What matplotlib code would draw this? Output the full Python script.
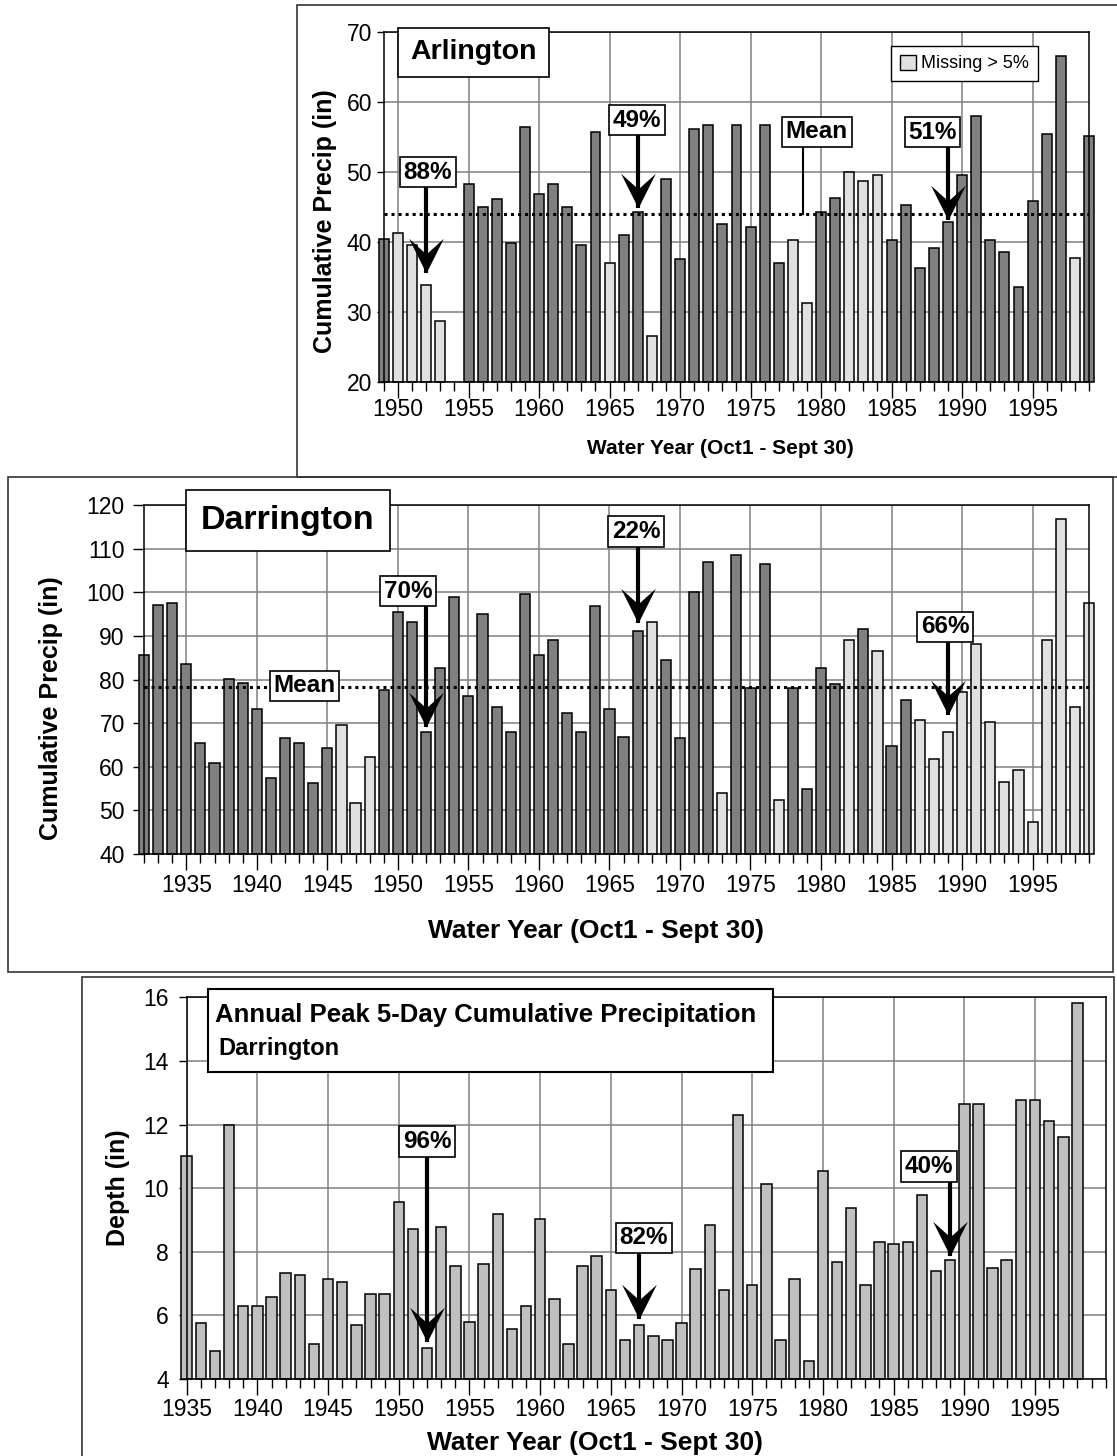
import matplotlib
matplotlib.use("Agg")
import matplotlib.pyplot as plt
import numpy as np
from matplotlib.path import Path
from matplotlib.patches import Rectangle, Patch
from matplotlib.ticker import FixedLocator, MultipleLocator

W, H = 1117, 1456

# ---- data ----
arl_years = np.arange(1949, 2000)
arl_precip = [40.4, 41.3, 39.6, 33.8, 28.7, np.nan, 48.2, 45.0, 46.1, 39.9,
              56.4, 46.9, 48.2, 45.0, 39.6, 55.7, 37.0, 41.0, 44.2, 26.6,
              49.0, 37.6, 56.2, 56.7, 42.6, 56.7, 42.1, 56.7, 37.0, 40.2,
              31.2, 44.2, 46.3, 50.0, 48.7, 49.5, 40.2, 45.2, 36.2, 39.1,
              42.9, 49.5, 58.0, 40.2, 38.6, 33.5, 45.8, 55.4, 66.5, 37.7,
              55.1]
arl_missing = [1950, 1951, 1952, 1953, 1965, 1968, 1978, 1979, 1982, 1983, 1984, 1998]
arl_mean = 44.0

dar_years = np.arange(1932, 2000)
dar_precip = [85.7, 97.2, 97.7, 83.5, 65.5, 60.9, 80.1, 79.2, 73.3, 57.4,
              66.5, 65.5, 56.2, 64.3, 69.5, 51.6, 62.2, 77.6, 95.5, 93.3,
              68.1, 82.6, 98.9, 76.3, 95.1, 73.7, 68.1, 99.7, 85.7, 89.1,
              72.4, 68.1, 96.8, 73.3, 66.9, 91.2, 93.3, 84.4, 66.5, 100.2,
              107.1, 54.0, 108.7, 78.0, 106.6, 52.4, 78.0, 54.9, 82.7, 78.9,
              89.1, 91.6, 86.5, 64.7, 75.4, 70.8, 61.7, 68.1, 77.1, 88.2,
              70.3, 56.6, 59.2, 47.3, 89.1, 116.9, 73.7, 97.7]
dar_missing = [1946, 1947, 1948, 1968, 1973, 1977, 1982, 1984] + list(range(1987, 2000))
dar_mean = 78.3

peak_years = np.arange(1935, 1999)
peak_depth = [11.02, 5.75, 4.88, 12.0, 6.28, 6.28, 6.57, 7.32, 7.27, 5.10,
              7.15, 7.04, 5.70, 6.68, 6.68, 9.55, 8.73, 4.98, 8.79, 7.56,
              5.80, 7.62, 9.20, 5.57, 6.28, 9.02, 6.50, 5.10, 7.56, 7.86,
              6.80, 5.22, 5.70, 5.34, 5.22, 5.75, 7.45, 8.85, 6.80, 12.30,
              6.97, 10.14, 5.22, 7.15, 4.57, 10.55, 7.68, 9.37, 6.97, 8.32,
              8.25, 8.32, 9.78, 7.38, 7.73, 12.65, 12.65, 7.50, 7.73, 12.77,
              12.77, 12.11, 11.61, 15.81]

# callouts: label, box centre (year, value), arrow tip (year, value)
arl_calls = [("88%", (1952.1, 49.95), (1952, 35.5)),
             ("49%", (1966.96, 57.4), (1967, 44.8)),
             ("51%", (1987.9, 55.67), (1989, 43.1))]
dar_calls = [("70%", (1950.7, 100.3), (1952, 69.2)),
             ("22%", (1966.9, 114.0), (1967, 93.1)),
             ("66%", (1988.8, 92.1), (1989, 71.9))]
peak_calls = [("96%", (1952.0, 11.47), (1952, 5.17)),
              ("82%", (1967.34, 8.44), (1967, 5.90)),
              ("40%", (1987.5, 10.68), (1989, 7.86))]

DARK = "#808080"
LIGHT = "#e0e0e0"
MID = "#c0c0c0"
GRID = "#808080"

plt.rcParams["font.family"] = ["Liberation Sans", "DejaVu Sans"]


def fx(x):
    return x / W


def fy(y):
    return 1 - y / H


def frame(fig, x0, y0, x1, y1, lw=1.2, ec="#333333", fc=None, z=1):
    r = Rectangle((fx(x0), fy(y1)), fx(x1) - fx(x0), fy(y0) - fy(y1),
                  transform=fig.transFigure, fill=fc is not None,
                  fc=fc if fc else "none", ec=ec, lw=lw, zorder=z)
    fig.add_artist(r)
    return r


HEAD = Path([(0, 0), (0.5, 1.0), (0, 0.55), (-0.5, 1.0), (0, 0)],
            [Path.MOVETO, Path.LINETO, Path.LINETO, Path.LINETO, Path.CLOSEPOLY])


def pointer(ax, label, box, tip):
    bx, by = box
    tx, ty = tip
    ax.plot([tx, tx], [by, ty], color="k", lw=3, zorder=4, clip_on=False,
            solid_capstyle="butt")
    ax.plot([tx], [ty], marker=HEAD, ms=50, color="k", mew=0, zorder=4, clip_on=False)
    ax.text(bx, by, label, ha="center", va="center", fontsize=17.5, fontweight="bold",
            zorder=6, bbox=dict(boxstyle="square,pad=0.15", fc="white", ec="k", lw=1.2))


def setup(ax, xlim, ylim, ystep, ymaj_len, xpad, ypad):
    ax.set_xlim(*xlim)
    ax.set_ylim(*ylim)
    ax.xaxis.set_major_locator(FixedLocator(range(1935, 2000, 5)))
    ax.xaxis.set_minor_locator(MultipleLocator(1))
    ax.yaxis.set_major_locator(MultipleLocator(ystep))
    ax.set_axisbelow(True)
    ax.grid(True, which="major", color=GRID, lw=1.1)
    ax.tick_params(axis="x", which="major", length=11.5, width=1, direction="out",
                   labelsize=16.5, pad=xpad)
    ax.tick_params(axis="x", which="minor", length=6.5, width=1, direction="out")
    ax.tick_params(axis="y", length=ymaj_len, width=1, direction="out",
                   labelsize=16.5, pad=ypad)
    for s in ax.spines.values():
        s.set_linewidth(1.1)


def bars(ax, years, values, colors, width=0.72):
    values = np.asarray(values, dtype=float)
    ok = ~np.isnan(values)
    base = ax.get_ylim()[0]
    ax.bar(np.asarray(years)[ok], values[ok] - base, width=width, bottom=base,
           color=np.asarray(colors)[ok], edgecolor="k", lw=1.1, zorder=2, clip_on=False)


fig = plt.figure(figsize=(W / 100, H / 100), dpi=100)

# frames around the three panels
frame(fig, 297, 5, 1125, 477)
frame(fig, 7.5, 477, 1113, 971.5)
frame(fig, 81.7, 976.7, 1113.5, 1470)

# ---- Arlington ----
ax1 = fig.add_axes([fx(384), fy(381.7), (1089 - 384) / W, (381.7 - 32) / H])
setup(ax1, (1949, 1999), (20, 70), 10, 5, 0.3, 3.6)
ax1.xaxis.set_major_locator(FixedLocator(range(1950, 2000, 5)))
bars(ax1, arl_years, arl_precip,
     [LIGHT if y in arl_missing else DARK for y in arl_years], width=0.7)
ax1.axhline(arl_mean, color="k", ls=(0, (1, 1.3)), lw=2.2, zorder=3)
ax1.plot([1978.75, 1978.75], [55.7, arl_mean], color="k", lw=1.5, zorder=4)
ax1.text(1979.7, 55.75, "Mean", ha="center", va="center", fontsize=17.5, fontweight="bold",
         zorder=6, bbox=dict(boxstyle="square,pad=0.15", fc="white", ec="k", lw=1.2))
for lab, b, t in arl_calls:
    pointer(ax1, lab, b, t)
ax1.text(1955.35, 67.07, "Arlington", ha="center", va="center", fontsize=20.5,
         fontweight="bold", zorder=6,
         bbox=dict(boxstyle="square,pad=0.42", fc="white", ec="k", lw=1.2))
fig.legend([Patch(fc=LIGHT, ec="k", lw=1)], ["Missing > 5%"], loc="upper right",
           bbox_to_anchor=(fx(1038.3), fy(45.7)), bbox_transform=fig.transFigure,
           fancybox=False, edgecolor="k", framealpha=1, borderpad=0.5,
           handlelength=0.9, handleheight=0.9, handletextpad=0.3, borderaxespad=0,
           fontsize=13)
fig.text(fx(720), fy(448), "Water Year (Oct1 - Sept 30)", ha="center", va="center",
         fontsize=15, fontweight="bold")
fig.text(fx(325), fy(220.8), "Cumulative Precip (in)", rotation=90, ha="center",
         va="center", fontsize=18, fontweight="bold")

# ---- Darrington ----
ax2 = fig.add_axes([fx(144), fy(854), (1089 - 144) / W, (854 - 505.3) / H])
setup(ax2, (1932, 1999), (40, 120), 10, 8, 3.2, 5.8)
bars(ax2, dar_years, dar_precip,
     [LIGHT if y in dar_missing else DARK for y in dar_years], width=0.72)
ax2.axhline(dar_mean, color="k", ls=(0, (1, 1.3)), lw=2.2, zorder=3)
ax2.text(1943.4, 78.55, "Mean", ha="center", va="center", fontsize=17.5, fontweight="bold",
         zorder=6, bbox=dict(boxstyle="square,pad=0.15", fc="white", ec="k", lw=1.2))
for lab, b, t in dar_calls:
    pointer(ax2, lab, b, t)
ax2.text(1942.2, 116.5, "Darrington", ha="center", va="center", fontsize=24.5,
         fontweight="bold", zorder=6,
         bbox=dict(boxstyle="square,pad=0.45", fc="white", ec="k", lw=1.2))
fig.text(fx(596), fy(931), "Water Year (Oct1 - Sept 30)", ha="center", va="center",
         fontsize=19, fontweight="bold")
fig.text(fx(51), fy(708.5), "Cumulative Precip (in)", rotation=90, ha="center",
         va="center", fontsize=18, fontweight="bold")

# ---- Annual peak 5-day ----
ax3 = fig.add_axes([fx(186.7), fy(1379), (1105.7 - 186.7) / W, (1379 - 997.3) / H])
setup(ax3, (1935, 2000), (4, 16), 2, 6, 2.0, 7)
ax3.xaxis.set_major_locator(FixedLocator(range(1935, 2000, 5)))
bars(ax3, peak_years, peak_depth, [MID] * len(peak_years), width=0.74)
for lab, b, t in peak_calls:
    pointer(ax3, lab, b, t)
frame(fig, 207.7, 989.3, 772.7, 1071.7, lw=1.5, ec="k", fc="white", z=10)
fig.text(fx(215), fy(1015), "Annual Peak 5-Day Cumulative Precipitation", ha="left",
         va="center", fontsize=18.5, fontweight="bold", zorder=11)
fig.text(fx(218), fy(1048), "Darrington", ha="left", va="center", fontsize=17,
         fontweight="bold", zorder=11)
fig.text(fx(595), fy(1443), "Water Year (Oct1 - Sept 30)", ha="center", va="center",
         fontsize=19, fontweight="bold")
fig.text(fx(118.5), fy(1188), "Depth (in)", rotation=90, ha="center", va="center",
         fontsize=18, fontweight="bold")

fig.savefig("out.png", dpi=100)
